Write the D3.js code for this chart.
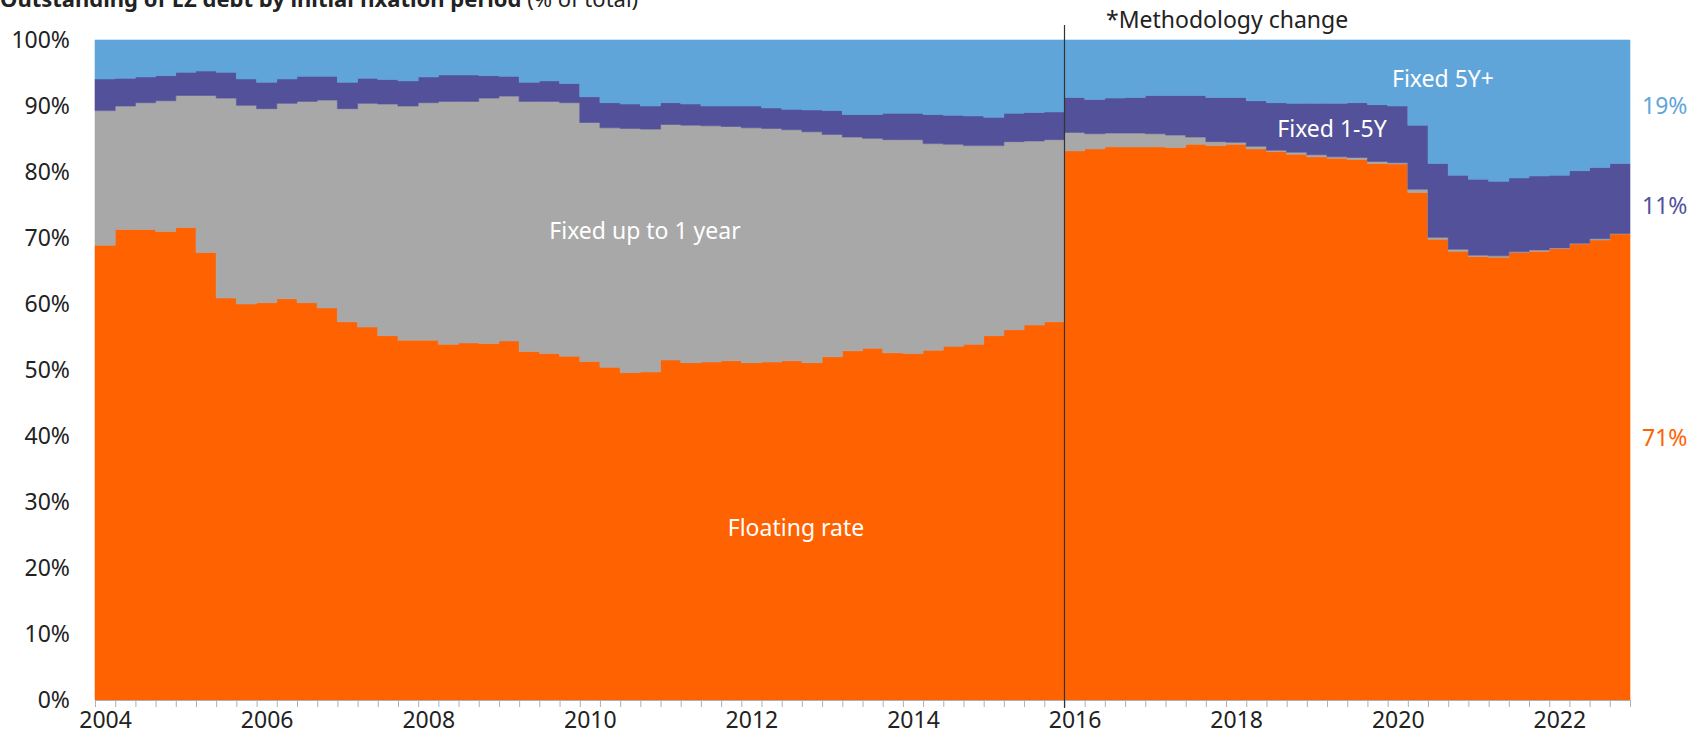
<!DOCTYPE html>
<html><head><meta charset="utf-8">
<script src="https://cdn.jsdelivr.net/npm/d3@7/dist/d3.min.js"></script>
<style>
body{margin:0;background:#fff;}
svg{display:block;}
text{font-family:"Noto Sans",sans-serif;}
</style></head><body>
<svg id="chart" width="1694" height="747"></svg>
<script>
// ---------- data ----------
const quarters = [
"2004Q1","2004Q2","2004Q3","2004Q4","2005Q1","2005Q2","2005Q3","2005Q4",
"2006Q1","2006Q2","2006Q3","2006Q4","2007Q1","2007Q2","2007Q3","2007Q4",
"2008Q1","2008Q2","2008Q3","2008Q4","2009Q1","2009Q2","2009Q3","2009Q4",
"2010Q1","2010Q2","2010Q3","2010Q4","2011Q1","2011Q2","2011Q3","2011Q4",
"2012Q1","2012Q2","2012Q3","2012Q4","2013Q1","2013Q2","2013Q3","2013Q4",
"2014Q1","2014Q2","2014Q3","2014Q4","2015Q1","2015Q2","2015Q3","2015Q4",
"2016Q1","2016Q2","2016Q3","2016Q4","2017Q1","2017Q2","2017Q3","2017Q4",
"2018Q1","2018Q2","2018Q3","2018Q4","2019Q1","2019Q2","2019Q3","2019Q4",
"2020Q1","2020Q2","2020Q3","2020Q4","2021Q1","2021Q2","2021Q3","2021Q4",
"2022Q1","2022Q2","2022Q3","2022Q4"];

const floatingRate = [
68.9,71.3,71.3,71.0,71.6,67.8,60.9,60.0,
60.2,60.8,60.2,59.4,57.3,56.5,55.2,54.5,
54.5,53.9,54.1,54.0,54.4,52.8,52.5,52.1,
51.3,50.4,49.6,49.7,51.5,51.1,51.2,51.4,
51.1,51.2,51.4,51.1,52.0,52.9,53.3,52.6,
52.5,53.0,53.6,53.9,55.2,56.1,56.8,57.3,
83.2,83.5,83.8,83.8,83.8,83.7,84.2,84.0,
84.2,83.5,83.1,82.7,82.3,82.1,81.9,81.3,
81.2,76.9,69.8,68.0,67.2,67.1,67.8,68.0,
68.4,69.1,69.7,70.6];

const fixedUpTo1Y = [
20.4,18.7,19.2,19.8,20.0,23.8,30.3,30.1,
29.4,29.6,30.5,31.5,32.3,33.9,35.1,35.5,
36.0,36.8,36.6,37.2,37.1,37.9,38.2,38.4,
36.2,36.3,37.0,36.8,35.7,36.0,35.8,35.5,
35.6,35.4,35.0,35.0,33.7,32.4,31.8,32.3,
32.4,31.3,30.6,30.1,28.8,28.5,27.9,27.6,
2.8,2.3,2.1,2.1,2.0,1.9,1.1,0.6,
0.3,0.4,0.2,0.3,0.3,0.2,0.3,0.3,
0.2,0.5,0.3,0.3,0.2,0.2,0.1,0.2,
0.1,0.1,0.2,0.1];

const fixed1to5Y = [
4.8,4.2,3.9,3.8,3.5,3.7,3.9,4.0,
4.0,3.7,3.8,3.6,4.0,3.8,3.7,3.8,
3.9,4.0,4.0,3.4,3.0,2.9,3.1,2.9,
3.9,3.8,3.7,3.5,3.3,3.2,3.0,3.1,
3.3,3.1,3.1,3.3,3.6,3.4,3.6,4.0,
4.0,4.4,4.4,4.5,4.3,4.3,4.3,4.2,
5.3,5.2,5.3,5.4,5.8,6.0,6.3,6.7,
6.8,6.9,7.2,7.4,7.8,8.1,8.3,8.6,
8.6,9.7,11.2,11.2,11.5,11.3,11.2,11.2,
11.0,11.0,10.8,10.6];

const fixed5Yplus = [
5.9,5.8,5.6,5.4,4.9,4.7,4.9,5.9,
6.4,5.9,5.5,5.5,6.4,5.8,6.0,6.2,
5.6,5.3,5.3,5.4,5.5,6.4,6.2,6.6,
8.6,9.5,9.7,10.0,9.5,9.7,10.0,10.0,
10.0,10.3,10.5,10.6,10.7,11.3,11.3,11.1,
11.1,11.3,11.4,11.5,11.7,11.1,11.0,10.9,
8.7,9.0,8.8,8.7,8.4,8.4,8.4,8.7,
8.7,9.2,9.5,9.6,9.6,9.6,9.5,9.8,
10.0,12.9,18.7,20.5,21.1,21.4,20.9,20.6,
20.5,19.8,19.3,18.7];

const seriesKeys = ["Floating rate","Fixed up to 1 year","Fixed 1-5Y","Fixed 5Y+"];
const seriesColors = ["#ff6200","#a8a8a8","#525199","#5fa5da"];
const yTickValues = [0,10,20,30,40,50,60,70,80,90,100];
const xLabelYears = ["2004","2006","2008","2010","2012","2014","2016","2018","2020","2022"];
const endLabels = ["71%","11%","19%"];
const methodologyQuarter = "2016Q1";
const titleBold = "Outstanding of EZ debt by initial fixation period";
const titleRegular = " (% of total)";

// ---------- layout ----------
const W = 1694, H = 747;
const plot = {left: 95, right: 1630, top: 40, bottom: 700};
const FS = 23;

const svg = d3.select("#chart");

const rows = quarters.map((q, i) => ({
  q, i,
  "Floating rate": floatingRate[i],
  "Fixed up to 1 year": fixedUpTo1Y[i],
  "Fixed 1-5Y": fixed1to5Y[i],
  "Fixed 5Y+": fixed5Yplus[i]
}));

const x = d3.scaleLinear().domain([0, quarters.length]).range([plot.left, plot.right]);
const y = d3.scaleLinear().domain([0, 100]).range([plot.bottom, plot.top]).clamp(true);

const stacked = d3.stack().keys(seriesKeys)(rows);

const area = d3.area()
  .x(d => x(d.idx))
  .y0(d => y(d[0]))
  .y1(d => y(d[1]))
  .curve(d3.curveStepAfter);

stacked.forEach((s, k) => {
  const pts = s.map((d, i) => { const p = [d[0], d[1]]; p.idx = i; return p; });
  const last = pts[pts.length - 1];
  const end = [last[0], last[1]]; end.idx = quarters.length;
  pts.push(end);
  svg.append("path")
    .attr("d", area(pts))
    .attr("fill", seriesColors[k])
    .attr("stroke", seriesColors[k])
    .attr("stroke-width", 0.6);
});

// x axis: quarter ticks
const xTicks = svg.append("g")
  .attr("transform", `translate(0,${plot.bottom})`)
  .call(d3.axisBottom(x).tickValues(d3.range(0, quarters.length + 1)).tickSize(7).tickFormat(() => ""));
xTicks.selectAll("line").attr("stroke", "#b0b0b0");
xTicks.select(".domain").attr("stroke", "#b0b0b0");

// x axis: year labels, centred on first quarter of year
const labelIdx = xLabelYears.map(yr => quarters.indexOf(yr + "Q1") + 0.5);
const xLab = svg.append("g")
  .attr("transform", `translate(0,${plot.bottom})`)
  .call(d3.axisBottom(x).tickValues(labelIdx).tickSize(0).tickPadding(12)
    .tickFormat(v => quarters[Math.floor(v)].slice(0, 4)));
xLab.select(".domain").remove();
xLab.selectAll("text").attr("font-size", FS).attr("fill", "#222").attr("font-family", "Noto Sans");

// y axis labels
const yAx = svg.append("g")
  .attr("transform", `translate(${plot.left},0)`)
  .call(d3.axisLeft(y).tickValues(yTickValues).tickSize(0).tickPadding(25).tickFormat(d => d + "%"));
yAx.select(".domain").remove();
yAx.selectAll("text").attr("font-size", FS).attr("fill", "#222").attr("font-family", "Noto Sans");

// methodology line
const mx = Math.round(x(quarters.indexOf(methodologyQuarter))) + 0.5;
svg.append("line")
  .attr("x1", mx).attr("x2", mx).attr("y1", 25).attr("y2", plot.bottom + 8)
  .attr("stroke", "#333").attr("stroke-width", 1.2);
svg.append("text")
  .attr("x", 1106).attr("y", 28)
  .attr("font-size", FS).attr("fill", "#222")
  .text("*Methodology change");

// title (cut off at top, as in the source)
const title = svg.append("text").attr("x", 0).attr("y", 7).attr("font-size", 22).attr("fill", "#222");
title.append("tspan").attr("font-weight", "bold").text(titleBold);
title.append("tspan").text(titleRegular);

// in-chart labels
const inLabels = [
  {t: seriesKeys[0], x: 796, y: 536},
  {t: seriesKeys[1], x: 645, y: 239},
  {t: seriesKeys[2], x: 1332, y: 137},
  {t: seriesKeys[3], x: 1443, y: 87}
];
svg.selectAll("text.inlab").data(inLabels).join("text")
  .attr("class", "inlab")
  .attr("x", d => d.x).attr("y", d => d.y)
  .attr("text-anchor", "middle")
  .attr("font-size", FS).attr("fill", "#fff")
  .text(d => d.t);

// end-value labels on the right
const endPos = [438, 206, 106];
const endColors = [seriesColors[0], seriesColors[2], seriesColors[3]];
svg.selectAll("text.endlab").data(endLabels).join("text")
  .attr("class", "endlab")
  .attr("x", 1642).attr("y", (d, i) => endPos[i] + 8)
  .attr("font-size", FS).attr("fill", (d, i) => endColors[i])
  .text(d => d);
</script>
</body></html>
